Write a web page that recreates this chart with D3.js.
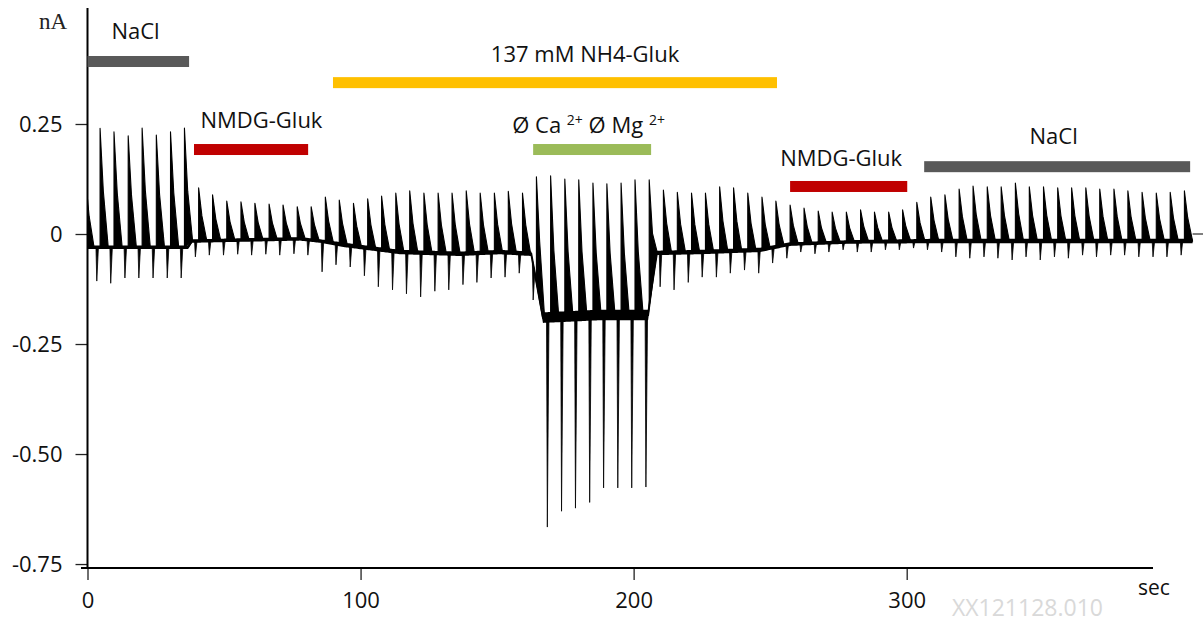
<!DOCTYPE html>
<html><head><meta charset="utf-8">
<script src="https://cdn.jsdelivr.net/npm/d3@7"></script>
<style>
html,body{margin:0;padding:0;background:#fff;}
svg{display:block;}
</style></head><body>
<svg id="chart" width="1203" height="624"></svg>
<script>
// ---- data ----
const pulseTimes = [-0.6, 4.6, 9.7, 14.9, 20.0, 25.2, 30.4, 35.5, 40.7, 45.8, 51.0, 56.2, 61.3, 66.5, 71.6, 76.8,
  81.9, 87.1, 92.2, 97.4, 102.6, 107.7, 112.9, 118.0, 123.2, 128.4, 133.5, 138.7, 143.8, 149.0, 154.1, 159.3,
  164.4, 169.6, 174.8, 179.9, 185.1, 190.2, 195.4, 200.5, 205.7, 210.9, 216.0, 221.2, 226.3, 231.5, 236.6,
  241.8, 247.0, 252.1, 257.3, 262.4, 267.6, 272.7, 277.9, 283.1, 288.2, 293.4, 298.5, 303.7, 308.8, 314.0,
  319.2, 324.3, 329.5, 334.6, 339.8, 344.9, 350.1, 355.3, 360.4, 365.6, 370.7, 375.9, 381.0, 386.2, 391.4,
  396.5, 401.7];
const pulsePeaks = [0.12, 0.24, 0.232, 0.223, 0.241, 0.225, 0.232, 0.241, 0.105, 0.089, 0.075, 0.073, 0.07,
  0.068, 0.066, 0.062, 0.062, 0.084, 0.077, 0.07, 0.08, 0.086, 0.093, 0.098, 0.093, 0.093, 0.093, 0.098,
  0.093, 0.093, 0.097, 0.093, 0.13, 0.132, 0.125, 0.123, 0.116, 0.114, 0.116, 0.123, 0.123, 0.10, 0.095,
  0.093, 0.093, 0.107, 0.105, 0.093, 0.084, 0.075, 0.066, 0.059, 0.052, 0.05, 0.05, 0.055, 0.05, 0.05,
  0.055, 0.072, 0.084, 0.089, 0.102, 0.109, 0.107, 0.107, 0.116, 0.107, 0.107, 0.105, 0.105, 0.105, 0.102,
  0.102, 0.098, 0.095, 0.093, 0.095, 0.098];
const pulseTroughs = [-0.03, -0.107, -0.112, -0.10, -0.10, -0.10, -0.10, -0.10, -0.052, -0.048, -0.048,
  -0.046, -0.048, -0.046, -0.048, -0.045, -0.048, -0.086, -0.07, -0.075, -0.095, -0.12, -0.127, -0.136,
  -0.143, -0.13, -0.127, -0.115, -0.11, -0.10, -0.098, -0.089, -0.15, -0.666, -0.63, -0.623, -0.61, -0.577,
  -0.577, -0.577, -0.575, -0.12, -0.127, -0.11, -0.098, -0.098, -0.089, -0.082, -0.089, -0.066, -0.055,
  -0.041, -0.045, -0.041, -0.036, -0.041, -0.041, -0.036, -0.036, -0.032, -0.036, -0.041, -0.052, -0.055,
  -0.052, -0.055, -0.059, -0.052, -0.059, -0.052, -0.055, -0.048, -0.052, -0.048, -0.048, -0.052, -0.052,
  -0.052, -0.048];
const baseTimes = [0, 36.8, 38.3, 77.8, 85.2, 94.3, 114.5, 136.4, 151.1, 162.5, 166.8, 187.7, 205.3, 208.2,
  224.4, 246.3, 257.3, 279.3, 308.6, 404.7];
const baseValues = [-0.03, -0.03, -0.016, -0.011, -0.016, -0.025, -0.041, -0.045, -0.041, -0.045, -0.19,
  -0.184, -0.184, -0.043, -0.041, -0.036, -0.023, -0.018, -0.016, -0.016];
const baseNoise = [0.004, 0.004, 0.004, 0.004, 0.004, 0.005, 0.005, 0.005, 0.005, 0.005, 0.012, 0.012,
  0.012, 0.005, 0.005, 0.005, 0.004, 0.004, 0.005, 0.005];
const tailTimes = [404.7, 410];
const tailValues = [0, 0];

const xTicks = [0, 100, 200, 300];
const xTickLabels = ["0", "100", "200", "300"];
const yTicks = [0.25, 0, -0.25, -0.5, -0.75];
const yTickLabels = ["0.25", "0", "-0.25", "-0.50", "-0.75"];

const solutionNames = ["NaCl", "NMDG-Gluk", "137 mM NH4-Gluk", "Ca/Mg", "NMDG-Gluk", "NaCl"];
const solutionStart = [0, 39.0, 89.9, 163.2, 257.3, 306.4];
const solutionEnd = [37.2, 80.8, 252.5, 206.4, 300.2, 403.8];
const solutionLevel = [0.392, 0.192, 0.344, 0.192, 0.108, 0.153];
const solutionColors = ["#595959", "#c00000", "#ffc000", "#9bbb59", "#c00000", "#595959"];
const labelTimes = [17.6, 63.7, 182.2, 183.5, 276.0, 353.8];
const labelLevels = [0.443, 0.241, 0.391, 0.2295, 0.1545, 0.2045];

// ---- layout ----
const svg = d3.select("#chart");
const x = d3.scaleLinear().domain([0, 390.2]).range([87.5, 1153]);
const y = d3.scaleLinear().domain([-0.759, 0.5136]).range([568, 8]);
const base = d3.scaleLinear().domain(baseTimes).range(baseValues).clamp(true);
const noise = d3.scaleLinear().domain(baseTimes).range(baseNoise).clamp(true);
const FONT = "'Open Sans', sans-serif";
const WEDGE = 3.0, DOWN_L = 0.3, DOWN_R = 0.6, DOWN_LEAD = 1.2;

svg.append("defs").append("clipPath").attr("id", "plotclip")
  .append("rect").attr("x", x(0)).attr("y", 0).attr("width", 1203 - x(0)).attr("height", 624);

const trace = svg.append("g").attr("clip-path", "url(#plotclip)");
const lineGen = d3.line().x(d => x(d[0])).y(d => y(d[1]));

// baseline band
const bandPts = d3.merge(baseTimes.map((t, i) => i === 0 ? [t] : d3.range(baseTimes[i - 1], t, 0.5).concat([t])));
trace.append("path")
  .attr("d", d3.area().x(t => x(t)).y0(t => y(base(t) - noise(t))).y1(t => y(base(t) + noise(t)))(bandPts))
  .attr("fill", "#000");
trace.append("path")
  .attr("d", lineGen(baseTimes.map((t, i) => [t, baseValues[i]])))
  .attr("fill", "none").attr("stroke", "#000").attr("stroke-width", 2);

const pulses = pulseTimes.map((t, i) => ({ t, peak: pulsePeaks[i], trough: pulseTroughs[i] }));

// downward spikes
trace.selectAll("path.down").data(pulses).join("path").attr("class", "down")
  .attr("d", p => {
    const td = p.t - DOWN_LEAD;
    return lineGen([[td - DOWN_L, base(td - DOWN_L)], [td, p.trough], [td + DOWN_R, base(td + DOWN_R)]]) + "Z";
  })
  .attr("fill", "#000").attr("stroke", "#000").attr("stroke-width", 0.8).attr("stroke-linejoin", "round");

// upward wedges (vertical rise, slightly concave decay back to the baseline)
trace.selectAll("path.up").data(pulses).join("path").attr("class", "up")
  .attr("d", p => {
    const b0 = base(p.t), tm = p.t + WEDGE * 0.4, te = p.t + WEDGE;
    return lineGen([[p.t, b0], [p.t, p.peak], [tm, base(tm) + (p.peak - base(tm)) * 0.47], [te, base(te)]]) + "Z";
  })
  .attr("fill", "#000").attr("stroke", "#000").attr("stroke-width", 1.1).attr("stroke-linejoin", "round");

// tail
svg.append("path").attr("d", lineGen(tailTimes.map((t, i) => [t, tailValues[i]])))
  .attr("stroke", "#000").attr("stroke-width", 1).attr("fill", "none");

// ---- axes ----
const yAxis = svg.append("g").attr("transform", `translate(${x(0)},0)`)
  .call(d3.axisLeft(y).tickValues(yTicks).tickFormat((d, i) => yTickLabels[i]).tickSize(12).tickPadding(13));
yAxis.select(".domain").remove();
yAxis.selectAll(".tick line").attr("stroke", "#222").attr("stroke-width", 1.3);
yAxis.selectAll(".tick text").attr("font-family", FONT).attr("font-size", 22).attr("fill", "#111").attr("dy", "0.36em");

const xAxis = svg.append("g").attr("transform", `translate(0,${y.range()[0]})`)
  .call(d3.axisBottom(x).tickValues(xTicks).tickFormat((d, i) => xTickLabels[i]).tickSize(12));
xAxis.select(".domain").remove();
xAxis.selectAll(".tick line").attr("stroke", "#222").attr("stroke-width", 1.3);
xAxis.selectAll(".tick text").attr("font-family", FONT).attr("font-size", 22).attr("fill", "#111")
  .attr("y", 40).attr("dy", 0);

svg.append("line").attr("x1", x(0)).attr("x2", x(0)).attr("y1", 8).attr("y2", y.range()[0] + 1)
  .attr("stroke", "#000").attr("stroke-width", 2);
svg.append("line").attr("x1", x(0) - 6.5).attr("x2", x.range()[1]).attr("y1", y.range()[0]).attr("y2", y.range()[0])
  .attr("stroke", "#000").attr("stroke-width", 2);

svg.append("text").attr("x", 39).attr("y", 29).text("nA")
  .attr("font-family", "'Liberation Serif', 'Times New Roman', serif").attr("font-size", 23).attr("fill", "#222");
svg.append("text").attr("x", 1138).attr("y", 595).text("sec")
  .attr("font-family", FONT).attr("font-size", 21).attr("fill", "#111");
svg.append("text").attr("x", 952).attr("y", 616).text("XX121128.010")
  .attr("font-family", FONT).attr("font-size", 23).attr("fill", "#d9d9d9");

// ---- solution bars ----
svg.selectAll("rect.sol").data(solutionNames).join("rect").attr("class", "sol")
  .attr("x", (d, i) => x(solutionStart[i]))
  .attr("width", (d, i) => x(solutionEnd[i]) - x(solutionStart[i]))
  .attr("y", (d, i) => y(solutionLevel[i]) - 5.5)
  .attr("height", 11)
  .attr("fill", (d, i) => solutionColors[i]);

svg.selectAll("text.sol").data(solutionNames).join("text").attr("class", "sol")
  .attr("x", (d, i) => x(labelTimes[i]))
  .attr("y", (d, i) => y(labelLevels[i]))
  .attr("text-anchor", "middle")
  .attr("font-family", FONT).attr("font-size", 22).attr("fill", "#111")
  .each(function (d) {
    const t = d3.select(this);
    if (d === "Ca/Mg") {
      t.append("tspan").text("Ø Ca ");
      t.append("tspan").text("2+").attr("font-size", 14).attr("dy", -8);
      t.append("tspan").text(" Ø Mg ").attr("dy", 8);
      t.append("tspan").text("2+").attr("font-size", 14).attr("dy", -8);
    } else {
      t.text(d);
    }
  });
</script>
</body></html>
